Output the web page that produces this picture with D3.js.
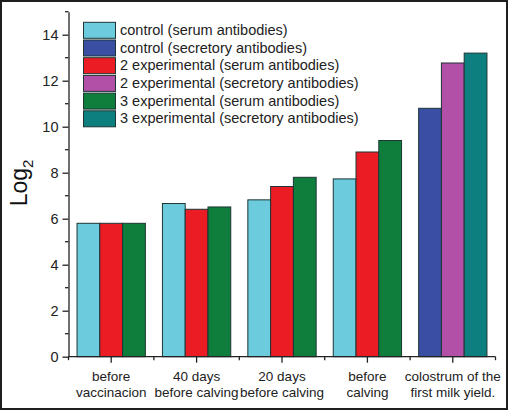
<!DOCTYPE html>
<html><head><meta charset="utf-8">
<script src="https://cdn.jsdelivr.net/npm/d3@7"></script>
<style>body{margin:0;background:#fff}svg{display:block}</style>
</head><body>
<script>
const categories = [["before","vaccinacion"],["40 days","before calving"],["20 days","before calving"],["before","calving"],["colostrum of the","first milk yield."]];
const seriesNames = ["control (serum antibodies)","control (secretory antibodies)","2 experimental (serum antibodies)","2 experimental (secretory antibodies)","3 experimental (serum antibodies)","3 experimental (secretory antibodies)"];
const seriesColors = ["#6ccbdc","#3a4fa3","#ec1c24","#b24fa7","#0f7e3c","#0c7f7e"];
const seriesSlot = [0,0,1,1,2,2];
const controlSerum = [5.8,6.66,6.82,7.73,null];
const controlSecretory = [null,null,null,null,10.8];
const exp2Serum = [5.8,6.41,7.4,8.9,null];
const exp2Secretory = [null,null,null,null,12.77];
const exp3Serum = [5.8,6.51,7.8,9.4,null];
const exp3Secretory = [null,null,null,null,13.2];
const seriesValues = [controlSerum,controlSecretory,exp2Serum,exp2Secretory,exp3Serum,exp3Secretory];
const yMajorTicks = [0,2,4,6,8,10,12,14];
const yMinorTicks = [1,3,5,7,9,11,13,15];

const W=509,H=411;
const svg=d3.select("body").append("svg").attr("width",W).attr("height",H);
svg.append("rect").attr("x",1).attr("y",1).attr("width",W-3).attr("height",H-3)
  .attr("fill","#fff").attr("stroke","#1e1e1e").attr("stroke-width",2);

const mLeft=68.5,mRight=495.5,mTop=11.7,mBottom=356.7;
const x=d3.scaleBand().domain(d3.range(categories.length)).range([mLeft,mRight]).paddingInner(0.2).paddingOuter(0.1);
const xs=d3.scaleBand().domain([0,1,2]).range([0,x.bandwidth()]);
const y=d3.scaleLinear().domain([0,15]).range([mBottom,mTop]);
const font="Liberation Sans, Arial, sans-serif";

// bars
seriesValues.forEach((vals,si)=>{
  svg.append("g").selectAll("rect").data(vals.map((v,i)=>({v,i})).filter(d=>d.v!=null))
    .join("rect")
    .attr("x",d=>x(d.i)+xs(seriesSlot[si]))
    .attr("y",d=>y(d.v))
    .attr("width",xs.bandwidth())
    .attr("height",d=>y(0)-y(d.v))
    .attr("fill",seriesColors[si])
    .attr("stroke","#1d3535").attr("stroke-width",1);
});

// y axis
const ya=svg.append("g").attr("transform",`translate(${mLeft},0)`)
  .call(d3.axisLeft(y).tickValues(yMajorTicks).tickSize(6).tickPadding(4).tickSizeOuter(0));
ya.select(".domain").attr("stroke","#222").attr("stroke-width",1.3);
ya.selectAll(".tick line").attr("stroke","#222").attr("stroke-width",1.3);
ya.selectAll("text").attr("font-family",font).attr("font-size",14.5).attr("fill","#222");
ya.append("g").selectAll("line").data(yMinorTicks).join("line")
  .attr("x1",-3.5).attr("x2",0).attr("y1",d=>y(d)).attr("y2",d=>y(d)).attr("stroke","#222").attr("stroke-width",1.3);

// x axis
const xAxisG=svg.append("g").attr("transform",`translate(0,${mBottom})`);
xAxisG.append("line").attr("x1",mLeft).attr("x2",mRight).attr("stroke","#222").attr("stroke-width",1.3);
const edges=d3.range(categories.length+1).map(i=>mLeft+i*(mRight-mLeft)/categories.length);
xAxisG.selectAll("line.minor").data(edges).join("line").attr("class","minor")
  .attr("x1",d=>d).attr("x2",d=>d).attr("y1",0).attr("y2",3.5).attr("stroke","#222").attr("stroke-width",1.3);
xAxisG.selectAll("line.major").data(d3.range(categories.length)).join("line").attr("class","major")
  .attr("x1",i=>x(i)+x.bandwidth()/2).attr("x2",i=>x(i)+x.bandwidth()/2).attr("y1",0).attr("y2",6).attr("stroke","#222").attr("stroke-width",1.3);
const xl=svg.append("g").selectAll("text").data(categories).join("text")
  .attr("text-anchor","middle").attr("font-family",font).attr("font-size",13.5).attr("fill","#222");
xl.each(function(c,i){
  const t=d3.select(this);
  c.forEach((line,j)=>t.append("tspan").attr("x",x(i)+x.bandwidth()/2).attr("y",380.5+j*16).text(line));
});

// y label
const yl=svg.append("text").attr("transform","translate(27,183) rotate(-90)")
  .attr("text-anchor","middle").attr("font-family",font).attr("font-size",23).attr("fill","#111");
yl.append("tspan").text("Log");
yl.append("tspan").attr("font-size",15).attr("dy",6).text("2");

// legend
const lg=svg.append("g");
seriesNames.forEach((n,i)=>{
  const yy=22.3+i*17.7;
  lg.append("rect").attr("x",83.5).attr("y",yy).attr("width",32).attr("height",16)
    .attr("fill",seriesColors[i]).attr("stroke","#1d3535").attr("stroke-width",1);
  lg.append("text").attr("x",120).attr("y",yy+12.5).attr("font-family",font).attr("font-size",14.5).attr("fill","#222").text(n);
});
</script>
</body></html>
